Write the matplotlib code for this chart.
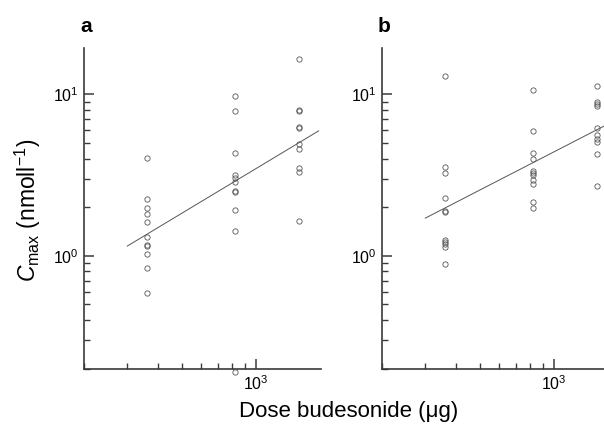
import matplotlib
matplotlib.use("Agg")
import matplotlib.pyplot as plt
from matplotlib.ticker import LogLocator, LogFormatterSciNotation, NullFormatter

plt.rcParams['font.family'] = ['Liberation Sans', 'DejaVu Sans']
plt.rcParams['mathtext.fontset'] = 'custom'
plt.rcParams['mathtext.rm'] = 'Liberation Sans'
plt.rcParams['mathtext.it'] = 'Liberation Sans:italic'
plt.rcParams['mathtext.bf'] = 'Liberation Sans:bold'

# ---- data ----
doses = [360, 820, 1500]

a_360 = [4.01, 2.25, 1.99, 1.82, 1.62, 1.31, 1.17, 1.15, 1.02, 0.836, 0.585]
a_800 = [9.76, 7.91, 4.35, 3.15, 3.04, 2.87, 2.52, 2.48, 1.92, 1.42, 0.19]
a_1500 = [16.5, 8.0, 7.88, 6.30, 6.21, 4.92, 4.58, 3.51, 3.30, 1.65]

b_360 = [13.0, 3.56, 3.24, 2.29, 1.89, 1.87, 1.25, 1.22, 1.18, 1.14, 0.888]
b_800 = [10.6, 5.97, 4.31, 3.97, 3.37, 3.26, 3.15, 2.94, 2.80, 2.15, 1.98]
b_1500 = [11.3, 9.0, 8.71, 8.46, 6.15, 5.60, 5.26, 5.08, 4.25, 2.71]

fit_dose = [300, 1800]
fit_a = [1.148, 5.94]
fit_b = [1.71, 6.98]

panels = [
    ("a", [a_360, a_800, a_1500], fit_a),
    ("b", [b_360, b_800, b_1500], fit_b),
]

W, H = 604, 432
fig = plt.figure(figsize=(W / 100, H / 100), dpi=100)

ax_lefts = [84, 382]
ax_w = 237
ax_top, ax_bot = 48.3, 368.5

spine_col = '#3a3a3a'
for (label, groups, fit), left in zip(panels, ax_lefts):
    ax = fig.add_axes([left / W, 1 - ax_bot / H, ax_w / W, (ax_bot - ax_top) / H])
    ax.set_xscale('log')
    ax.set_yscale('log')
    ax.set_xlim(200, 1840)
    ax.set_ylim(0.2, 19.3)
    for d, vals in zip(doses, groups):
        ax.plot([d] * len(vals), vals, linestyle='none', marker='o',
                markersize=3.8, markerfacecolor='none', markeredgecolor='#555555',
                markeredgewidth=0.6, clip_on=False, zorder=3)
    ax.plot(fit_dose, fit, color='#555555', linewidth=0.7, zorder=2)

    for s in ['top', 'right']:
        ax.spines[s].set_visible(False)
    for s in ['left', 'bottom']:
        ax.spines[s].set_color(spine_col)
        ax.spines[s].set_linewidth(1.2)

    ax.xaxis.set_major_locator(LogLocator(base=10, numticks=10))
    ax.xaxis.set_minor_locator(LogLocator(base=10, subs=range(2, 10), numticks=10))
    ax.yaxis.set_major_locator(LogLocator(base=10, numticks=10))
    ax.yaxis.set_minor_locator(LogLocator(base=10, subs=range(2, 10), numticks=10))
    ax.xaxis.set_major_formatter(LogFormatterSciNotation())
    ax.yaxis.set_major_formatter(LogFormatterSciNotation())
    ax.xaxis.set_minor_formatter(NullFormatter())
    ax.yaxis.set_minor_formatter(NullFormatter())
    ax.tick_params(which='major', direction='in', length=7, width=1.1,
                   color=spine_col, labelsize=11.5, pad=4)
    ax.tick_params(which='minor', direction='in', length=4, width=1.0,
                   color=spine_col)
    ax.patch.set_alpha(0)

    fig.text((left + 2) / W, 1 - 27 / H, label, fontsize=15, fontweight='bold',
             ha='center', va='center')

fig.text(28 / W, 1 - 210 / H, r'$\mathit{C}_{\mathrm{max}}$ (nmoll$^{-1}$)',
         rotation=90, fontsize=16.5, ha='center', va='center')
fig.text(349 / W, 1 - 411 / H, 'Dose budesonide (\u03bcg)', fontsize=16,
         ha='center', va='center')

fig.savefig('out.png', dpi=100)
